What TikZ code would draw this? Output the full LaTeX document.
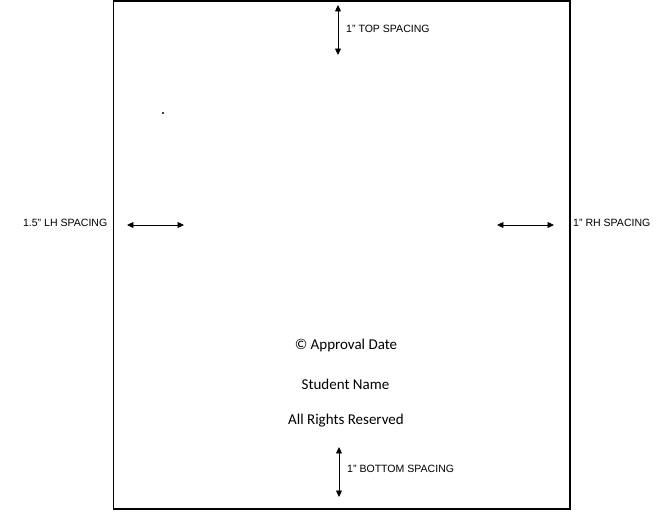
\documentclass[tikz,border=0pt]{standalone}
\usepackage{fontspec}
\setmainfont{Liberation Sans}
\newfontfamily\bodyfont{Carlito}
\usetikzlibrary{arrows.meta}

\begin{document}
\begin{tikzpicture}
        [x=0.03cm, y=-0.03cm,
        page/.style={draw, line width=1.2pt},
        spacing/.style={{Triangle[length=5.5pt,width=5pt]}-{Triangle[length=5.5pt,width=5pt]}, line width=0.7pt},
        note/.style={inner sep=0pt, font=\fontsize{9}{10}\selectfont},
        body/.style={inner sep=0pt, font=\bodyfont\fontsize{12.8}{14}\selectfont}]

        \useasboundingbox (0,0) rectangle (667,518);

        % the page
        \draw[page] (113.5,1) rectangle (570,509);
        \fill (163,113) circle (0.9pt);

        % arrow ends
        \coordinate (topA) at (338,5);
        \coordinate (topB) at (338,55);
        \coordinate (lhA) at (127,225);
        \coordinate (lhB) at (184,225);
        \coordinate (rhA) at (497,225);
        \coordinate (rhB) at (554,225);
        \coordinate (botA) at (339,447);
        \coordinate (botB) at (339,497);

        % spacing labels
        \node[note, anchor=west] (toplabel) at (346,29) {1" TOP SPACING};
        \node[note, anchor=east] (lhlabel) at (107.5,223) {1.5" LH SPACING};
        \node[note, anchor=west] (rhlabel) at (573,223) {1" RH SPACING};
        \node[note, anchor=west] (botlabel) at (347,469) {1" BOTTOM SPACING};

        % copyright text
        \node[body] (date) at (346,345) {© Approval Date};
        \node[body] (student) at (345.5,384) {Student Name};
        \node[body] (rights) at (346,421) {All Rights Reserved};

        % spacing arrows
        \draw[spacing] (topA) -- (topB);
        \draw[spacing] (lhA) -- (lhB);
        \draw[spacing] (rhA) -- (rhB);
        \draw[spacing] (botA) -- (botB);

        \end{tikzpicture}
\end{document}
